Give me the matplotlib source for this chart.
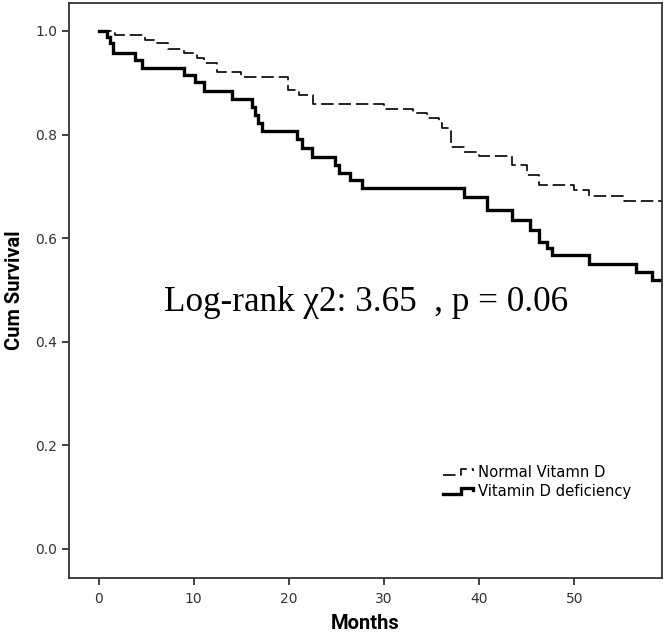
import matplotlib
matplotlib.use("Agg")
import matplotlib.pyplot as plt
from matplotlib.lines import Line2D
from matplotlib.legend_handler import HandlerLine2D

plt.rcParams['lines.scale_dashes'] = False

# Kaplan-Meier step data (time in months, cumulative survival after each step)
normal_t = [0, 1.7, 4.9, 6.1, 7.3, 9.0, 10.4, 11.1, 12.4, 15.0, 19.9, 21.1, 22.5,
            30.0, 33.0, 34.5, 35.8, 36.1, 37.0, 38.4, 40.0, 43.4, 45.0, 46.3,
            50.0, 51.5, 55.2, 59.2]
normal_s = [1.0, 0.993, 0.983, 0.977, 0.965, 0.958, 0.948, 0.938, 0.921, 0.911,
            0.886, 0.876, 0.859, 0.849, 0.842, 0.832, 0.822, 0.813, 0.776, 0.766,
            0.759, 0.741, 0.722, 0.703, 0.693, 0.681, 0.672, 0.672]

defic_t = [0, 0.9, 1.2, 1.5, 3.8, 4.6, 9.0, 10.1, 11.1, 14.0, 16.1, 16.4, 16.8,
           17.2, 20.9, 21.4, 22.4, 24.8, 25.3, 26.4, 27.7, 38.4, 40.8, 43.4,
           45.3, 46.3, 47.1, 47.6, 51.5, 56.5, 58.2, 59.2]
defic_s = [1.0, 0.988, 0.977, 0.958, 0.944, 0.929, 0.915, 0.902, 0.884, 0.869,
           0.853, 0.838, 0.822, 0.807, 0.792, 0.774, 0.757, 0.741, 0.726, 0.712,
           0.697, 0.680, 0.654, 0.635, 0.616, 0.593, 0.581, 0.568, 0.550, 0.535,
           0.519, 0.519]

x_ticks = [0, 10, 20, 30, 40, 50]
y_ticks = [0.0, 0.2, 0.4, 0.6, 0.8, 1.0]
labels = ["Normal Vitamn D", "Vitamin D deficiency"]
annotation = "Log-rank \u03c72: 3.65  , p = 0.06"


class StepHandler(HandlerLine2D):
    def create_artists(self, legend, orig_handle, xdescent, ydescent, width,
                       height, fontsize, trans):
        x0 = -xdescent
        xm = x0 + width * 0.6
        x1 = x0 + width
        ylo = -ydescent + height * 0.2
        yhi = -ydescent + height * 0.8
        ln = Line2D([x0, xm, xm, x1, x1], [ylo, ylo, yhi, yhi, yhi - height * 0.25])
        self.update_prop(ln, orig_handle, legend)
        ln.set_transform(trans)
        return [ln]


fig = plt.figure(figsize=(6.65, 6.38), dpi=100)
ax = fig.add_axes([69 / 665, 1 - 578 / 638, (662 - 69) / 665, (578 - 3) / 638])

l1, = ax.plot(normal_t, normal_s, drawstyle='steps-post', color='black',
              linewidth=1.2, dashes=(9, 3.5))
l2, = ax.plot(defic_t, defic_s, drawstyle='steps-post', color='black',
              linewidth=2.4, solid_joinstyle='miter')

ax.set_xlim(-3.1, 59.2)
ax.set_ylim(-0.056, 1.054)
ax.set_xticks(x_ticks)
ax.set_xticklabels([str(v) for v in x_ticks])
ax.set_yticks(y_ticks)
ax.set_yticklabels([f"{v:.1f}" for v in y_ticks])
ax.tick_params(direction='out', length=5, width=1.2, colors='#222222',
               labelsize=10, labelcolor='#333333')
ax.tick_params(axis='x', pad=5)
for sp in ax.spines.values():
    sp.set_linewidth(1.3)
    sp.set_color('#333333')

ax.set_xlabel("Months", fontfamily='Roboto', fontweight='bold', fontsize=14.5,
              labelpad=6)
ax.set_ylabel("Cum Survival", fontfamily='Roboto', fontweight='bold', fontsize=14.5,
              labelpad=8)

ax.text(6.9, 0.475, annotation, fontfamily='Liberation Serif', fontsize=25.3,
        ha='left', va='center')

leg = ax.legend([l1, l2], labels, loc='upper left', bbox_to_anchor=(0.62, 0.207),
                frameon=False, fontsize=10.6, handlelength=2.1, handletextpad=0.3,
                labelspacing=0.28, borderaxespad=0,
                handler_map={Line2D: StepHandler()})

fig.savefig("out.png", dpi=100)
